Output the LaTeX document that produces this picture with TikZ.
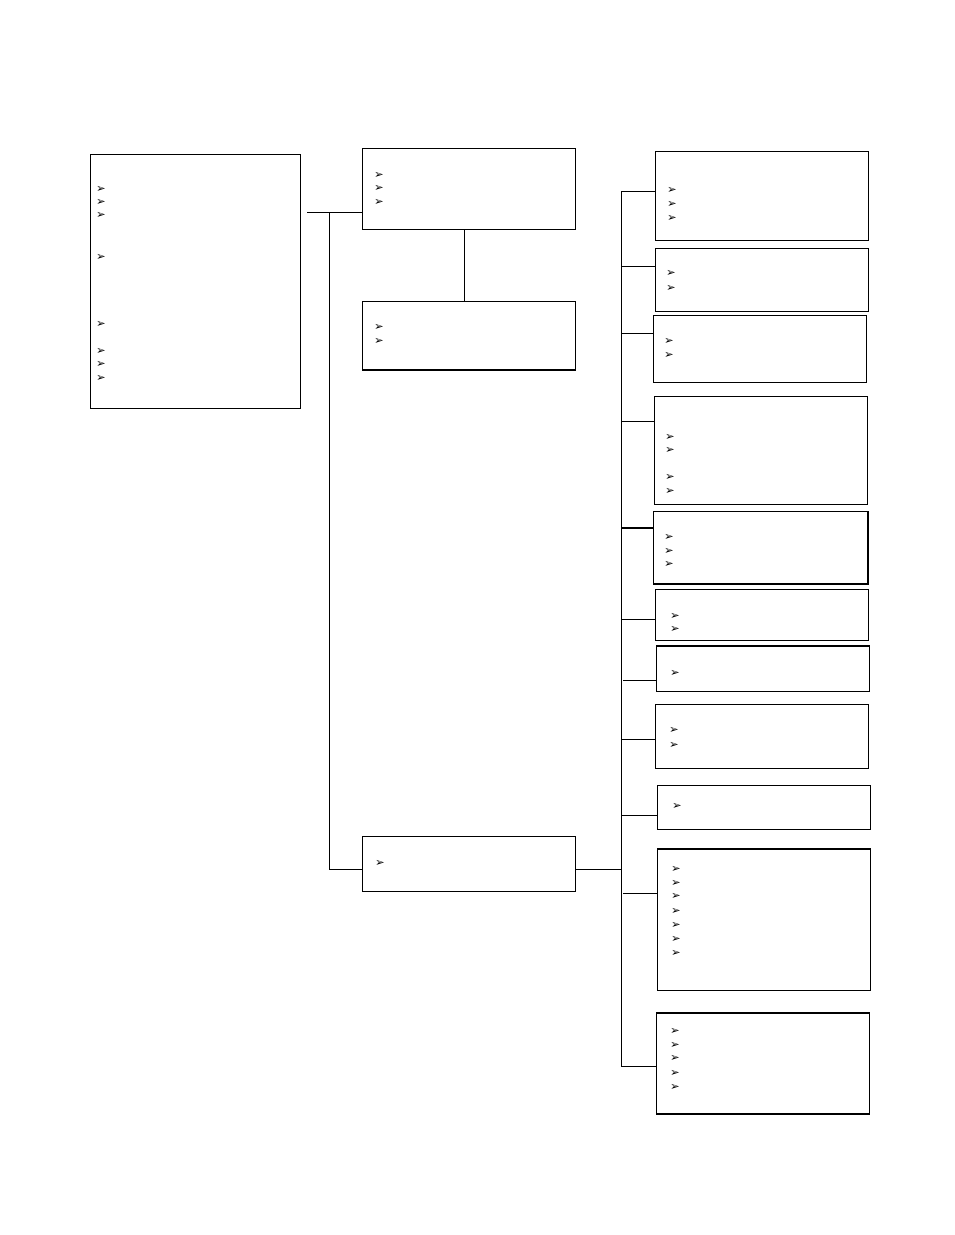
\documentclass[tikz,border=0pt]{standalone}
\usepackage{fontspec}
\newfontfamily\dingfont{DejaVu Sans}
\begin{document}
\begin{tikzpicture}[x=1pt, y=-1pt,
  box/.style={draw, line width=1pt, anchor=north west, inner sep=0pt},
  bul/.style={inner sep=0pt, font=\dingfont\fontsize{11.5}{11.5}\selectfont},
  link/.style={line width=1pt},
  heavy/.style={line width=2.2pt}]

\useasboundingbox (0,0) rectangle (954,1235);

% left column
\node[box, minimum width=210, minimum height=254] (A) at (90,154) {};
\node[box, minimum width=213, minimum height=81] (B1) at (362,148) {};
\node[box, minimum width=213, minimum height=68] (B2) at (362,301) {};
\node[box, minimum width=213, minimum height=55] (B3) at (362,836) {};

% right column
\foreach \n/\x/\y/\w/\h in {R1/655/151/213/89, R2/655/248/213/63,
    R3/653/315/213/67, R4/654/396/213/108, R5/653/511/214/72,
    R6/655/589/213/51, R7/656/646/213/45, R8/655/704/213/64,
    R9/657/785/213/44, R10/657/849/213/141, R11/656/1013/213/100} {
  \node[box, minimum width=\w, minimum height=\h] (\n) at (\x,\y) {};
}

\foreach \n/\x/\ys in {A/101/{189,202,215,257,324,351,364,378},
    B1/379/{175,188,202}, B2/379/{327,341}, B3/380/{863},
    R1/672/{190,204,218}, R2/671/{273,288}, R3/669/{341,355},
    R4/670/{437,450,477,491}, R5/669/{537,551,564}, R6/675/{616,629},
    R7/675/{673}, R8/674/{730,745}, R9/677/{806},
    R10/676/{869,883,896,911,925,939,953},
    R11/675/{1031,1045,1058,1073,1087}} {
  \foreach \y [count=\k] in \ys {
    \node[bul] (\n-\k) at (\x,\y) {➢};
  }
}

% connectors
\coordinate (stub) at (307,212);
\coordinate (split) at (329,212);
\coordinate (low) at (329,869);
\coordinate (top) at (621,191);
\coordinate (bot) at (621,1066);

\draw[link] (stub) -- (B1.west |- stub);
\draw[link] (split) -- (low) -- (B3.west |- low);
\draw[link] ([xshift=-4.5pt]B1.south) -- ([xshift=-4.5pt]B2.north);
\draw[link] (B3.east |- low) -- (top |- low);
\draw[link] (top) -- (bot);

\foreach \n/\x/\y in {R1/621/191, R2/621/266, R3/621/333, R4/621/421,
    R6/621/619, R7/623/680, R8/621/739, R9/621/815, R10/623/893,
    R11/621/1066} {
  \draw[link] (\x,\y) -- (\n.west |- \x,\y);
}
\draw[heavy] (621,528) -- (R5.west |- 621,528);

% heavier edges
\draw[heavy] (B2.south west) -- (B2.south east);
\draw[heavy] (R5.north east) -- (R5.south east) -- (R5.south west);
\draw[heavy] (R7.north west) -- (R7.north east);
\draw[heavy] (R10.north west) -- (R10.north east);
\draw[heavy] (R11.north west) -- (R11.north east);
\draw[heavy] (R11.south west) -- (R11.south east);

\end{tikzpicture}
\end{document}
